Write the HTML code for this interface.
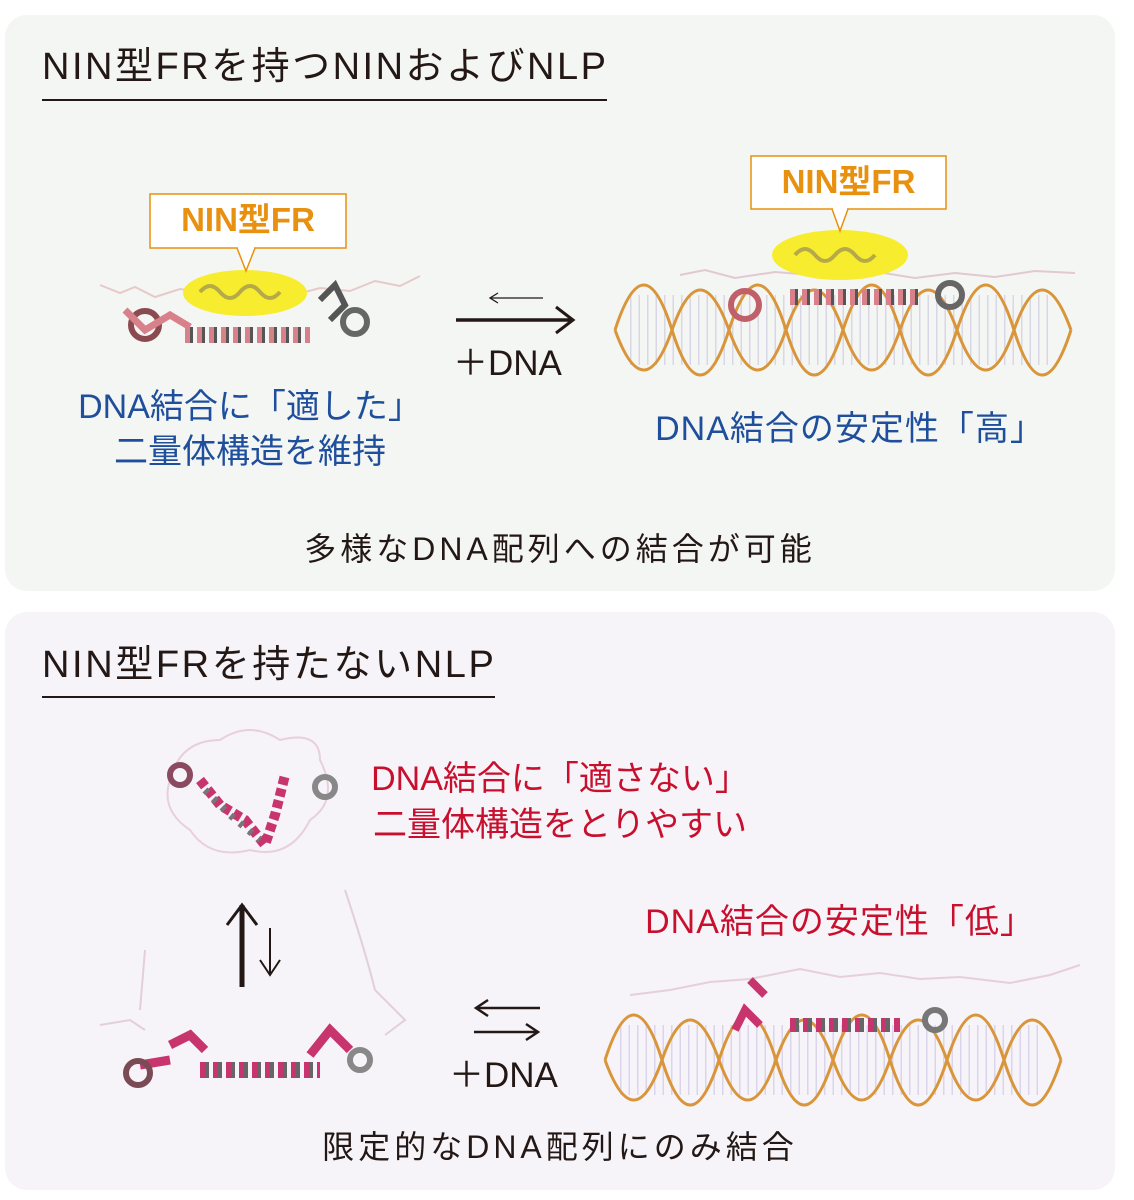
<!DOCTYPE html>
<html><head><meta charset="utf-8"><style>
html,body{margin:0;padding:0;background:#fff;}
body{width:1134px;height:1200px;position:relative;overflow:hidden;font-family:"Liberation Sans","Noto Sans CJK JP",sans-serif;}
.p{position:absolute;border-radius:22px;}
.t{position:absolute;white-space:nowrap;line-height:1;}
</style></head><body>
<div class="p" style="left:5px;top:15px;width:1110px;height:576px;background:#f4f6f3;"></div>
<div class="p" style="left:5px;top:612px;width:1110px;height:578px;background:#f6f4f9;"></div>

<div class="t" style="left:42px;top:48px;font-size:38px;color:#231815;letter-spacing:2.5px;">NIN型FRを持つNINおよびNLP</div>
<div style="position:absolute;left:42px;top:99px;width:565px;height:2px;background:#231815;"></div>
<div class="t" style="left:42px;top:646px;font-size:38px;color:#231815;letter-spacing:2.6px;">NIN型FRを持たないNLP</div>
<div style="position:absolute;left:42px;top:696px;width:453px;height:2px;background:#231815;"></div>

<svg width="1134" height="1200" style="position:absolute;left:0;top:0">
<defs>
<g id="dna">
 <line x1="15" y1="0" x2="440" y2="0" stroke="#b9b0d8" stroke-width="70" stroke-dasharray="1.5 7" opacity="0.45"/>
 <path d="M0,0 q29,-90 57,0 t57,0 t57,0 t57,0 t57,0 t57,0 t57,0 t57,0" fill="none" stroke="#d9953a" stroke-width="3"/>
 <path d="M0,-20 q29,80 57,0 t57,0 t57,0 t57,0 t57,0 t57,0 t57,0 t57,0" fill="none" stroke="#d9953a" stroke-width="3" transform="translate(0,20)"/>
</g>
</defs>

<!-- panel1 left protein -->
<path d="M100,285 l20,8 l15,-6 l20,10 l25,-8 l30,5 l40,-4 l40,6 l30,-8 l30,3 l25,-10 l25,5 l20,-10" fill="none" stroke="#e7c9c9" stroke-width="2"/>
<ellipse cx="245" cy="293" rx="62" ry="23" fill="#f7ec2e"/>
<path d="M200,292 q10,-12 20,0 q10,12 20,0 q10,-12 20,0 q10,12 20,0" fill="none" stroke="#b5a94a" stroke-width="4"/>
<line x1="185" y1="335" x2="310" y2="335" stroke="#d8818a" stroke-width="16" stroke-dasharray="7 5"/>
<line x1="190" y1="335" x2="310" y2="335" stroke="#555" stroke-width="16" stroke-dasharray="3 9"/>
<circle cx="145" cy="325" r="14" fill="none" stroke="#8a4a50" stroke-width="6"/>
<circle cx="355" cy="322" r="12" fill="none" stroke="#666" stroke-width="6"/>
<path d="M125,310 l20,20 l25,-15 l20,12" fill="none" stroke="#d8818a" stroke-width="7"/>
<path d="M320,300 l15,-15 l10,20 l-15,15" fill="none" stroke="#555" stroke-width="6"/>
<rect x="150" y="194" width="196" height="54" fill="#fff" stroke="#e8900f" stroke-width="1.5"/>
<path d="M237,248 l9,23 l9,-23" fill="#fff" stroke="#e8900f" stroke-width="1.5"/>
<line x1="238" y1="248" x2="254" y2="248" stroke="#fff" stroke-width="2"/>
<line x1="490" y1="298" x2="543" y2="298" stroke="#231815" stroke-width="1.3"/>
<path d="M498,293 l-8,5 l8,5" fill="none" stroke="#231815" stroke-width="1.3"/>
<line x1="456" y1="320" x2="573" y2="320" stroke="#231815" stroke-width="3.5"/>
<path d="M556,307 l17,13 l-17,13" fill="none" stroke="#231815" stroke-width="3"/>

<!-- panel1 right DNA complex -->
<use href="#dna" transform="translate(615,330)"/>
<path d="M680,275 l25,-5 l30,8 l40,-6 l50,4 l40,-6 l50,8 l40,-5 l40,4 l40,-6 l40,2" fill="none" stroke="#e2c8d2" stroke-width="2"/>
<ellipse cx="840" cy="255" rx="68" ry="25" fill="#f7ec2e"/>
<path d="M795,255 q10,-12 20,0 q10,12 20,0 q10,-12 20,0 q10,12 20,0" fill="none" stroke="#b5a94a" stroke-width="4"/>
<line x1="790" y1="297" x2="920" y2="297" stroke="#d8818a" stroke-width="16" stroke-dasharray="7 5"/>
<line x1="795" y1="297" x2="920" y2="297" stroke="#555" stroke-width="16" stroke-dasharray="3 9"/>
<circle cx="745" cy="305" r="14" fill="none" stroke="#c0606a" stroke-width="6"/>
<circle cx="950" cy="295" r="12" fill="none" stroke="#666" stroke-width="6"/>
<rect x="751" y="156" width="195" height="53" fill="#fff" stroke="#e8900f" stroke-width="1.5"/>
<path d="M832,209 l8,22 l8,-22" fill="#fff" stroke="#e8900f" stroke-width="1.5"/>
<line x1="833" y1="209" x2="847" y2="209" stroke="#fff" stroke-width="2"/>

<!-- panel2 top protein -->
<path d="M170,780 q10,-40 50,-40 q30,-20 60,0 q40,-10 40,20 q20,40 -10,60 q-20,40 -60,30 q-40,10 -60,-20 q-30,-20 -20,-50" fill="none" stroke="#e8cfdc" stroke-width="2"/>
<path d="M200,780 l20,25 l25,15 l20,25 l10,-30 l10,-40" fill="none" stroke="#c8356e" stroke-width="10" stroke-dasharray="8 4"/>
<path d="M205,790 l25,25 l30,25" fill="none" stroke="#777" stroke-width="7" stroke-dasharray="4 8"/>
<circle cx="180" cy="775" r="10" fill="none" stroke="#8a4a60" stroke-width="6"/>
<circle cx="325" cy="787" r="10" fill="none" stroke="#888" stroke-width="6"/>
<line x1="242" y1="987" x2="242" y2="905" stroke="#231815" stroke-width="5"/>
<path d="M227,925 l15,-20 l15,20" fill="none" stroke="#231815" stroke-width="3"/>
<line x1="270" y1="928" x2="270" y2="975" stroke="#231815" stroke-width="2"/>
<path d="M260,960 l10,15 l10,-15" fill="none" stroke="#231815" stroke-width="2"/>
<path d="M100,1025 l30,-5 l15,10 M145,950 l-5,60 M345,890 q20,60 30,100 q20,20 30,30 l-20,15" fill="none" stroke="#e3cfdc" stroke-width="2"/>
<line x1="200" y1="1070" x2="320" y2="1070" stroke="#c8356e" stroke-width="16" stroke-dasharray="8 5"/>
<line x1="205" y1="1070" x2="320" y2="1070" stroke="#666" stroke-width="16" stroke-dasharray="4 9"/>
<path d="M140,1065 l30,-5 M170,1045 l20,-10 l15,15 M310,1055 l20,-25 l20,20" fill="none" stroke="#c8356e" stroke-width="9"/>
<circle cx="138" cy="1073" r="12" fill="none" stroke="#7a4a55" stroke-width="6"/>
<circle cx="360" cy="1060" r="10" fill="none" stroke="#888" stroke-width="6"/>
<line x1="476" y1="1008" x2="540" y2="1008" stroke="#231815" stroke-width="2.5"/>
<path d="M488,1000 l-12,8 l12,8" fill="none" stroke="#231815" stroke-width="2.5"/>
<line x1="474" y1="1032" x2="538" y2="1032" stroke="#231815" stroke-width="2.5"/>
<path d="M526,1024 l12,8 l-12,8" fill="none" stroke="#231815" stroke-width="2.5"/>
<use href="#dna" transform="translate(605,1060)"/>
<path d="M630,995 l40,-5 l40,-8 l40,-3 l50,-10 l40,8 l40,-4 l40,6 l40,-2 l50,6 l40,-8 l30,-10" fill="none" stroke="#e6cfd8" stroke-width="2"/>
<line x1="790" y1="1025" x2="900" y2="1025" stroke="#c8356e" stroke-width="14" stroke-dasharray="8 5"/>
<line x1="795" y1="1025" x2="900" y2="1025" stroke="#666" stroke-width="14" stroke-dasharray="4 9"/>
<path d="M735,1030 l10,-20 l15,15 M750,980 l15,15" fill="none" stroke="#c8356e" stroke-width="8"/>
<circle cx="935" cy="1020" r="10" fill="none" stroke="#777" stroke-width="6"/>
</svg>

<div class="t" style="left:150px;top:203px;width:196px;text-align:center;font-size:33px;font-weight:bold;color:#e8900f;">NIN型FR</div>
<div class="t" style="left:751px;top:165px;width:195px;text-align:center;font-size:33px;font-weight:bold;color:#e8900f;">NIN型FR</div>
<div class="t" style="left:453px;top:346px;font-size:35px;color:#231815;">＋DNA</div>
<div class="t" style="left:50px;top:390px;width:400px;text-align:center;font-size:34px;color:#1f4e9c;">DNA結合に「適した」</div>
<div class="t" style="left:50px;top:435px;width:400px;text-align:center;font-size:34px;color:#1f4e9c;">二量体構造を維持</div>
<div class="t" style="left:600px;top:412px;width:500px;text-align:center;font-size:34px;color:#1f4e9c;letter-spacing:1px;">DNA結合の安定性「高」</div>
<div class="t" style="left:260px;top:533px;width:600px;text-align:center;font-size:32px;color:#231815;letter-spacing:4px;">多様なDNA配列への結合が可能</div>

<div class="t" style="left:330px;top:762px;width:460px;text-align:center;font-size:34px;color:#c8102e;">DNA結合に「適さない」</div>
<div class="t" style="left:330px;top:808px;width:460px;text-align:center;font-size:34px;color:#c8102e;">二量体構造をとりやすい</div>
<div class="t" style="left:600px;top:905px;width:480px;text-align:center;font-size:34px;color:#c8102e;letter-spacing:1px;">DNA結合の安定性「低」</div>
<div class="t" style="left:449px;top:1058px;font-size:35px;color:#231815;">＋DNA</div>
<div class="t" style="left:260px;top:1131px;width:600px;text-align:center;font-size:32px;color:#231815;letter-spacing:4px;">限定的なDNA配列にのみ結合</div>
</body></html>
